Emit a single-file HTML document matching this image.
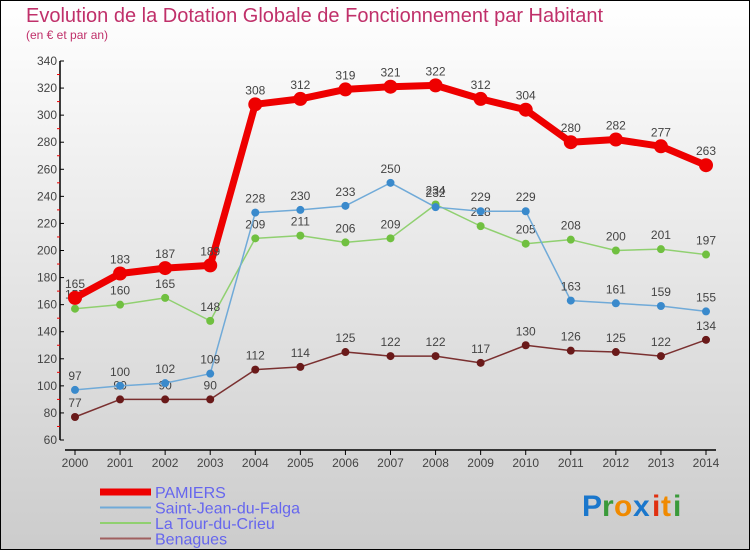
<!DOCTYPE html>
<html><head><meta charset="utf-8"><style>
html,body{margin:0;padding:0}
body{width:750px;height:550px;overflow:hidden;font-family:"Liberation Sans",sans-serif}
</style></head><body>
<svg id="chart" width="750" height="550" xmlns="http://www.w3.org/2000/svg" style="display:block">
<defs><linearGradient id="bg" x1="0" y1="0" x2="0" y2="1"><stop offset="0" stop-color="#ffffff"/><stop offset="1" stop-color="#cccccc"/></linearGradient></defs>
<rect x="0.5" y="0.5" width="749" height="549" fill="url(#bg)" stroke="#000"/>
<text x="26" y="22" font-size="20" fill="#c0306a">Evolution de la Dotation Globale de Fonctionnement par Habitant</text>
<text x="26" y="39" font-size="12" fill="#c0306a">(en € et par an)</text>
<g id="axes"></g>
<g id="series"></g>
<g id="legend"></g>
<g font-size="30" font-weight="bold" font-family="Liberation Sans,sans-serif">
<text x="582" y="516" fill="#1a77cc">P</text><text x="602" y="516" fill="#3a9a3a">r</text><text x="614" y="516" fill="#f08a00">o</text><text x="633" y="516" fill="#1a77cc">x</text><text x="652" y="516" fill="#e03010">i</text><text x="661" y="516" fill="#f08a00">t</text><text x="673" y="516" fill="#3a9a3a">i</text>
</g>
</svg>
<script>
const years=[2000,2001,2002,2003,2004,2005,2006,2007,2008,2009,2010,2011,2012,2013,2014];
const pamiers=[165,183,187,189,308,312,319,321,322,312,304,280,282,277,263];
const saintJean=[97,100,102,109,228,230,233,250,232,229,229,163,161,159,155];
const laTour=[157,160,165,148,209,211,206,209,234,218,205,208,200,201,197];
const benagues=[77,90,90,90,112,114,125,122,122,117,130,126,125,122,134];
const yTicks=[60,80,100,120,140,160,180,200,220,240,260,280,300,320,340];
const NS="http://www.w3.org/2000/svg";
const X=i=>75+i*(706-75)/(years.length-1);
const Y=v=>440-(v-60)*(440-61)/280;
function mk(tag,attrs,parent,txt){const e=document.createElementNS(NS,tag);for(const k in attrs)e.setAttribute(k,attrs[k]);if(txt!==undefined)e.textContent=txt;parent.appendChild(e);return e;}
const axes=document.getElementById('axes');
let yl=mk('line',{x1:60,y1:61,x2:60,y2:440,stroke:'#000','stroke-width':1.5},axes);


yTicks.forEach((t,i)=>{
 mk('line',{x1:60,y1:Y(t),x2:64,y2:Y(t),stroke:'#000'},axes);
 const lb=mk('text',{x:57,y:Y(t)+4,'text-anchor':'end','font-size':12,fill:'#444'},axes,t);
 
 
 if(i<yTicks.length-1) mk('line',{x1:57,y1:Y(t+10),x2:60,y2:Y(t+10),stroke:'#e00'},axes);
});
let xl=mk('line',{x1:65,y1:450,x2:716,y2:450,stroke:'#000','stroke-width':1.5},axes);


years.forEach((y,i)=>{
 mk('line',{x1:X(i),y1:450,x2:X(i),y2:455,stroke:'#000'},axes);
 const lb=mk('text',{x:X(i),y:467,'text-anchor':'middle','font-size':12,fill:'#444'},axes,y);
 
 
});
const seriesG=document.getElementById('series');
const defs=[
 {name:'benagues',data:benagues,color:'#7a3030',dot:'#6a1a1a',w:1.5,r:4},
 {name:'la-tour-du-crieu',data:laTour,color:'#90d070',dot:'#70c040',w:1.5,r:4},
 {name:'saint-jean-du-falga',data:saintJean,color:'#70aad8',dot:'#3a8acc',w:1.5,r:4},
 {name:'pamiers',data:pamiers,color:'#ee0000',dot:'#ee0000',w:7,r:7}
];
defs.forEach(s=>{
 const g=mk('g',{},seriesG);
 
 
 const pts=s.data.map((v,i)=>X(i)+','+Y(v)).join(' ');
 const pl=mk('polyline',{points:pts,fill:'none',stroke:s.color,'stroke-width':s.w,'stroke-linejoin':'round'},g);
 
 
 s.data.forEach((v,i)=>{
  const c=mk('circle',{cx:X(i),cy:Y(v),r:s.r,fill:s.dot},g);
  
  
  const t=mk('text',{x:X(i),y:Y(v)-10,'text-anchor':'middle','font-size':12,fill:'#444'},g,v);
  
  
 });
});
const leg=document.getElementById('legend');
const legItems=[['PAMIERS','#ee0000',7],['Saint-Jean-du-Falga','#70aad8',2],['La Tour-du-Crieu','#90d070',2],['Benagues','#a06060',2]];
legItems.forEach((it,i)=>{
 const y=492+i*15.5;
 const g=mk('g',{},leg);
 
 
 mk('line',{x1:100,y1:y,x2:151,y2:y,stroke:it[1],'stroke-width':it[2]},g);
 mk('text',{x:155,y:y+6,'font-size':16,fill:'#6666ee'},g,it[0]);
});
</script>
</body></html>
